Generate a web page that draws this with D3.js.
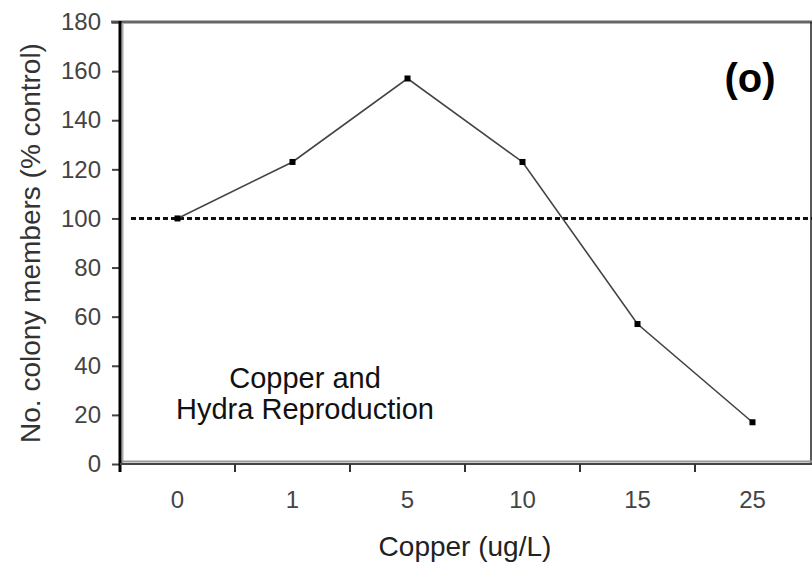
<!DOCTYPE html>
<html>
<head>
<meta charset="utf-8">
<script src="https://cdn.jsdelivr.net/npm/d3@7"></script>
<style>
  html, body { margin: 0; padding: 0; background: #fff; }
  svg { display: block; font-family: "Liberation Sans", Arial, sans-serif; }
</style>
</head>
<body>
<svg id="chart" width="812" height="564"></svg>
<script>
// Copper concentration (ug/L) and colony members as % of control
const categories = ["0", "1", "5", "10", "15", "25"];
const members = [100, 123, 157, 123, 57, 17];
const yTicks = [0, 20, 40, 60, 80, 100, 120, 140, 160, 180];
const controlLevel = [100];

const svg = d3.select("#chart");
const plotLeft = 120, plotRight = 810, plotTop = 22, plotBottom = 464;

const x = d3.scaleBand().domain(categories).range([plotLeft, plotRight]).padding(0);
const y = d3.scaleLinear().domain([0, 180]).range([plotBottom, plotTop]);

// frame: top and right borders
svg.append("line").attr("x1", 111).attr("x2", 812).attr("y1", plotTop).attr("y2", plotTop)
  .attr("stroke", "#666").attr("stroke-width", 3);
svg.append("line").attr("x1", 811).attr("x2", 811).attr("y1", plotTop).attr("y2", plotBottom)
  .attr("stroke", "#222").attr("stroke-width", 1.5);

// light shadow lines along the axes
svg.append("line").attr("x1", plotLeft + 2.5).attr("x2", plotLeft + 2.5).attr("y1", plotTop + 1).attr("y2", plotBottom - 1)
  .attr("stroke", "#aaa").attr("stroke-width", 2);
svg.append("line").attr("x1", plotLeft).attr("x2", 812).attr("y1", plotBottom - 2.5).attr("y2", plotBottom - 2.5)
  .attr("stroke", "#999").attr("stroke-width", 2);

// y axis
const yAxis = d3.axisLeft(y).tickValues(yTicks).tickSize(8).tickPadding(11);
const gy = svg.append("g").attr("transform", `translate(${plotLeft},0)`).call(yAxis);
gy.select(".domain").remove();
gy.selectAll(".tick line").attr("stroke", "#444").attr("stroke-width", 2);
gy.selectAll(".tick text").attr("font-size", 24).attr("fill", "#444")
  .attr("font-family", "'Liberation Sans', Arial, sans-serif");
svg.append("line").attr("x1", plotLeft).attr("x2", plotLeft).attr("y1", plotTop - 1).attr("y2", plotBottom + 8)
  .attr("stroke", "#000").attr("stroke-width", 3);

// x axis: labels centred in each band, ticks on band boundaries
const xAxis = d3.axisBottom(x).tickSize(0).tickPadding(27);
const gx = svg.append("g").attr("transform", `translate(0,${plotBottom})`).call(xAxis);
gx.select(".domain").remove();
gx.selectAll(".tick text").attr("font-size", 24).attr("fill", "#444")
  .attr("font-family", "'Liberation Sans', Arial, sans-serif");
svg.append("line").attr("x1", plotLeft).attr("x2", 812).attr("y1", plotBottom).attr("y2", plotBottom)
  .attr("stroke", "#444").attr("stroke-width", 2);
svg.append("g").selectAll("line").data(categories.slice(1)).join("line")
  .attr("x1", d => x(d)).attr("x2", d => x(d))
  .attr("y1", plotBottom).attr("y2", plotBottom + 8)
  .attr("stroke", "#333").attr("stroke-width", 2);

// control reference line
svg.append("g").selectAll("line").data(controlLevel).join("line")
  .attr("x1", 131).attr("x2", 812)
  .attr("y1", d => y(d)).attr("y2", d => y(d))
  .attr("stroke", "#111").attr("stroke-width", 3)
  .attr("stroke-dasharray", "5,3");

// data series
const cx = d => x(d) + x.bandwidth() / 2;
const line = d3.line().x((d, i) => cx(categories[i])).y(d => y(d));
svg.append("path").datum(members).attr("d", line)
  .attr("fill", "none").attr("stroke", "#444").attr("stroke-width", 1.6);
svg.append("g").selectAll("rect").data(members).join("rect")
  .attr("x", (d, i) => cx(categories[i]) - 3)
  .attr("y", d => y(d) - 3)
  .attr("width", 6).attr("height", 6)
  .attr("fill", "#000");

// axis titles
svg.append("text").attr("x", (plotLeft + plotRight) / 2).attr("y", 556)
  .attr("text-anchor", "middle").attr("font-size", 28).attr("fill", "#222")
  .text("Copper (ug/L)");
svg.append("text")
  .attr("transform", `translate(40,${(plotTop + plotBottom) / 2}) rotate(-90)`)
  .attr("text-anchor", "middle").attr("font-size", 28).attr("fill", "#333")
  .text("No. colony members (% control)");

// annotations
const note = svg.append("text").attr("text-anchor", "middle").attr("font-size", 29).attr("fill", "#111");
note.append("tspan").attr("x", 305).attr("y", 388).text("Copper and");
note.append("tspan").attr("x", 305).attr("y", 419).text("Hydra Reproduction");

svg.append("text").attr("x", 750).attr("y", 92).attr("text-anchor", "middle")
  .attr("font-size", 40).attr("font-weight", "bold").attr("fill", "#000")
  .text("(o)");
</script>
</body>
</html>
